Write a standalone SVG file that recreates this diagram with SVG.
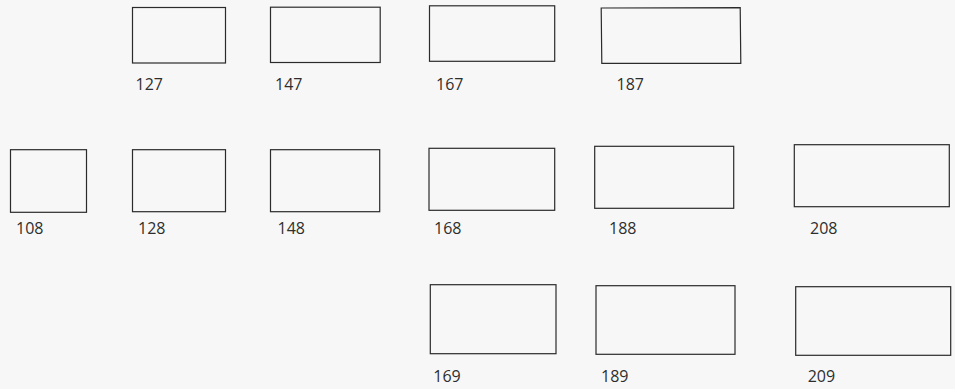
<svg xmlns="http://www.w3.org/2000/svg" width="955" height="389" viewBox="0 0 955 389">
<style>
.box{fill:#f7f7f7;stroke:#2b2b2b;stroke-width:1.2}
.lbl{font-family:"Open Sans","Noto Sans","Liberation Sans",sans-serif;font-size:16px;fill:#2e2e2e}
</style>
<rect width="955" height="389" fill="#f7f7f7"/>
<g id="n127"><rect class="box" x="132.5" y="7.5" width="93" height="55.5"/><text class="lbl" x="135.5" y="90">127</text></g>
<g id="n147"><rect class="box" x="270.5" y="7.2" width="109.7" height="55.3"/><text class="lbl" x="275" y="90">147</text></g>
<g id="n167"><rect class="box" x="429.5" y="5.8" width="125.2" height="55.5"/><text class="lbl" x="436" y="90">167</text></g>
<g id="n187"><path class="box" d="M601.2 8 L740.2 7.7 L740.8 63.3 L601.8 63.3 Z"/><text class="lbl" x="616.5" y="90">187</text></g>
<g id="n108"><rect class="box" x="10.5" y="149.7" width="76" height="62.6"/><text class="lbl" x="16" y="234">108</text></g>
<g id="n128"><rect class="box" x="132.5" y="149.7" width="93" height="62"/><text class="lbl" x="138" y="234">128</text></g>
<g id="n148"><rect class="box" x="270.5" y="149.7" width="109.2" height="62"/><text class="lbl" x="277.5" y="234">148</text></g>
<g id="n168"><rect class="box" x="429" y="148.3" width="125.7" height="62"/><text class="lbl" x="434" y="234">168</text></g>
<g id="n188"><rect class="box" x="594.7" y="146.3" width="139" height="62"/><text class="lbl" x="609" y="234">188</text></g>
<g id="n208"><rect class="box" x="794.3" y="144.7" width="155" height="62"/><text class="lbl" x="810" y="234">208</text></g>
<g id="n169"><rect class="box" x="430.3" y="284.7" width="125.7" height="69"/><text class="lbl" x="433.3" y="382">169</text></g>
<g id="n189"><rect class="box" x="596" y="285.7" width="139" height="68.6"/><text class="lbl" x="601" y="382">189</text></g>
<g id="n209"><rect class="box" x="795.7" y="286.7" width="155" height="68.6"/><text class="lbl" x="807.7" y="382">209</text></g>
<g id="connectors"></g>
</svg>
